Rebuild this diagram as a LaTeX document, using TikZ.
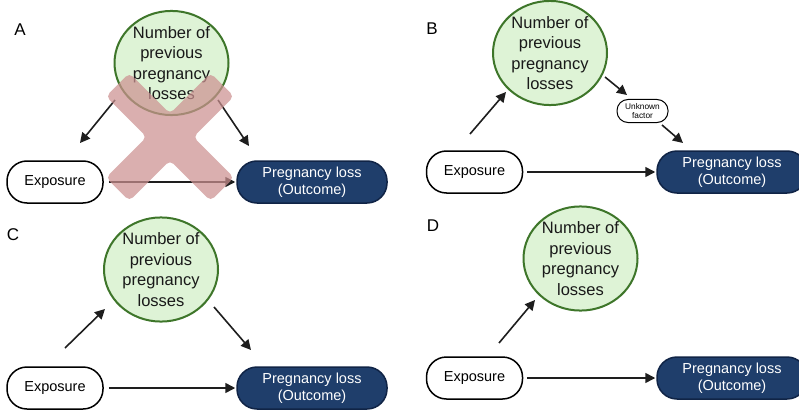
\documentclass[tikz,border=0pt]{standalone}
\usepackage{fontspec}
\setmainfont{Liberation Sans}
\usetikzlibrary{arrows.meta,shapes.geometric}
\definecolor{navy}{RGB}{31,62,107}
\definecolor{navyline}{RGB}{16,36,70}
\definecolor{lgreen}{RGB}{222,243,214}
\definecolor{dgreen}{RGB}{62,118,42}
\definecolor{xpink}{RGB}{204,145,145}
\definecolor{arrowc}{RGB}{30,30,30}
\tikzset{
  factor/.style={ellipse, draw=dgreen, line width=2pt, fill=lgreen, minimum width=114, minimum height=92, inner sep=0pt, align=center, font=\fontsize{16.5}{20.5}\selectfont, text=black!90},
  expo/.style={rectangle, rounded corners=20, draw=black, line width=1.5pt, fill=white, minimum width=96, minimum height=42, inner sep=0pt, font=\fontsize{14.5}{17}\selectfont},
  outc/.style={rectangle, rounded corners=20, draw=navyline, line width=1.5pt, fill=navy, minimum width=150, minimum height=42, inner sep=0pt, align=center, text=white, font=\fontsize{14.5}{17}\selectfont},
  unk/.style={rectangle, rounded corners=11, draw=black, line width=1pt, fill=white, minimum width=51, minimum height=23, inner sep=0pt, align=center, font=\fontsize{8.3}{9.3}\selectfont},
  conn/.style={draw=arrowc, line width=1.6pt, -{Triangle[length=10pt,width=10pt]}},
  panel/.style={font=\fontsize{17}{20}\selectfont},
}
\begin{document}
\begin{tikzpicture}[x=1pt,y=-1pt]
\useasboundingbox (0,0) rectangle (799,409);
\fill[white] (0,0) rectangle (799,409);
% ---------- Panel A ----------
\node[panel] (la) at (20,30) {A};
\node[factor] (fa) at (171.5,63) {Number of\\previous\\pregnancy\\losses};
\node[expo] (ea) at (55,182) {Exposure};
\node[outc] (oa) at (312,182) {Pregnancy loss\\(Outcome)};
\coordinate (a1s) at (115,100); \coordinate (a1e) at (80,143);
\coordinate (a2s) at (218,100); \coordinate (a2e) at (249,146);
\draw[conn] (a1s) -- (a1e);
\draw[conn] (a2s) -- (a2e);
\draw[conn, shorten <=5pt, shorten >=1pt] (ea.east) -- (oa.west);
\fill[xpink, fill opacity=0.72, rounded corners=5pt]
  (170,113.7) -- (210.6,73.0) -- (234.0,96.4) -- (193.3,137) -- (234.0,177.6) -- (210.6,201.0)
  -- (170,160.3) -- (129.4,201.0) -- (106.0,177.6) -- (146.7,137) -- (106.0,96.4) -- (129.4,73.0) -- cycle;
% ---------- Panel B ----------
\node[panel] (lb) at (432,29) {B};
\node[factor] (fb) at (550,53) {Number of\\previous\\pregnancy\\losses};
\node[expo] (eb) at (474.5,172) {Exposure};
\node[outc] (ob) at (732,172) {Pregnancy loss\\(Outcome)};
\node[unk] (ub) at (642.5,111) {Unknown\\factor};
\coordinate (b1s) at (470,134); \coordinate (b1e) at (506,92);
\coordinate (b2s) at (605,77); \coordinate (b2e) at (627,95);
\coordinate (b3s) at (662,125); \coordinate (b3e) at (683,143);
\draw[conn] (b1s) -- (b1e);
\draw[conn] (b2s) -- (b2e);
\draw[conn] (b3s) -- (b3e);
\draw[conn, shorten <=4pt, shorten >=1pt] (eb.east) -- (ob.west);
% ---------- Panel C ----------
\node[panel] (lc) at (13,235) {C};
\node[factor] (fc) at (161,269.5) {Number of\\previous\\pregnancy\\losses};
\node[expo] (ec) at (55,388) {Exposure};
\node[outc] (oc) at (312,388) {Pregnancy loss\\(Outcome)};
\coordinate (c1s) at (65,348); \coordinate (c1e) at (105,309);
\coordinate (c2s) at (214,307); \coordinate (c2e) at (251,350);
\draw[conn] (c1s) -- (c1e);
\draw[conn] (c2s) -- (c2e);
\draw[conn, shorten <=5pt, shorten >=1pt] (ec.east) -- (oc.west);
% ---------- Panel D ----------
\node[panel] (ld) at (433,226) {D};
\node[factor] (fd) at (580.5,258.5) {Number of\\previous\\pregnancy\\losses};
\node[expo] (ed) at (474.5,378) {Exposure};
\node[outc] (od) at (732,378) {Pregnancy loss\\(Outcome)};
\coordinate (d1s) at (499,343); \coordinate (d1e) at (535,300);
\draw[conn] (d1s) -- (d1e);
\draw[conn, shorten <=4pt, shorten >=1pt] (ed.east) -- (od.west);
\end{tikzpicture}
\end{document}
